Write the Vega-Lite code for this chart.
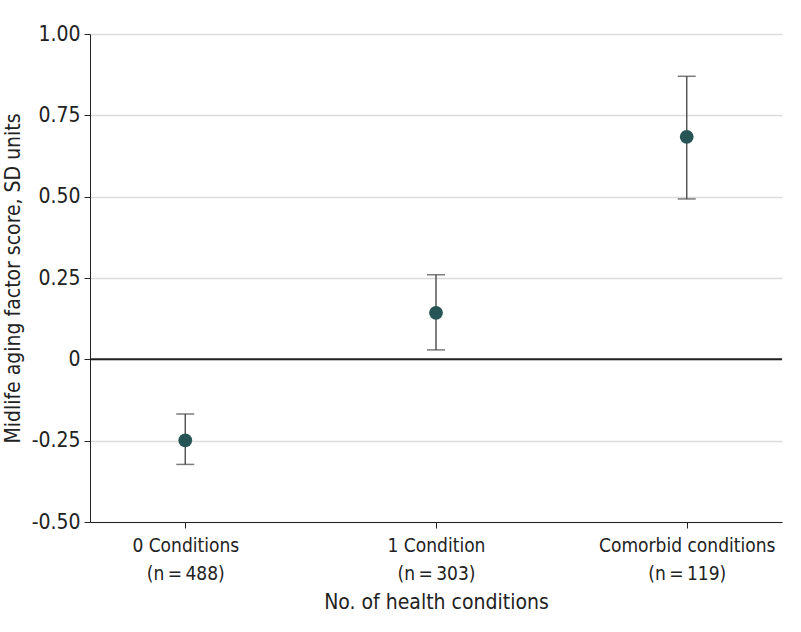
{
  "$schema": "https://vega.github.io/schema/vega-lite/v6.json",
  "width": 692,
  "height": 488,
  "autosize": "none",
  "padding": {"left": 90, "top": 34, "right": 19, "bottom": 110},
  "background": "white",
  "config": {
    "view": {"stroke": null},
    "font": "DejaVu Sans Condensed",
    "axis": {
      "labelFont": "DejaVu Sans Condensed",
      "titleFont": "DejaVu Sans Condensed",
      "labelFontSize": 19,
      "titleFontSize": 21,
      "titleFontWeight": "normal",
      "labelColor": "#222",
      "titleColor": "#222",
      "domainColor": "#222",
      "tickColor": "#222"
    }
  },
  "data": {
    "values": [
      {"group": "0 Conditions|(n\u2009=\u2009488)", "est": -0.249, "lo": -0.323, "hi": -0.168},
      {"group": "1 Condition|(n\u2009=\u2009303)", "est": 0.143, "lo": 0.029, "hi": 0.260},
      {"group": "Comorbid conditions|(n\u2009=\u2009119)", "est": 0.684, "lo": 0.493, "hi": 0.870}
    ]
  },
  "encoding": {
    "x": {
      "field": "group",
      "type": "nominal",
      "sort": null,
      "scale": {"type": "point", "padding": 0.38},
      "axis": {
        "title": "No. of health conditions",
        "labelAngle": 0,
        "labelExpr": "split(datum.label, '|')",
        "labelLineHeight": 28,
        "labelPadding": 8,
        "tickSize": 6,
        "titlePadding": 8,
        "grid": false
      }
    }
  },
  "layer": [
    {
      "mark": {"type": "rule", "color": "#222", "strokeWidth": 2},
      "data": {"values": [{"z": 0}]},
      "encoding": {"y": {"field": "z", "type": "quantitative"}, "x": null}
    },
    {
      "mark": {"type": "rule", "color": "#555", "strokeWidth": 1.5},
      "encoding": {
        "y": {
          "field": "lo",
          "type": "quantitative",
          "scale": {"domain": [-0.5, 1], "nice": false},
          "axis": {
            "title": "Midlife aging factor score, SD units",
            "titleFontSize": 21,
            "labelFontSize": 21,
            "values": [-0.5, -0.25, 0, 0.25, 0.5, 0.75, 1],
            "labelExpr": "datum.value === 0 ? '0' : replace(format(datum.value, '.2f'), '\u2212', '-')",
            "grid": true,
            "gridColor": "#dcdcdc",
            "gridWidth": 1.5,
            "tickSize": 6,
            "labelPadding": 4,
            "titlePadding": 8
          }
        },
        "y2": {"field": "hi"}
      }
    },
    {
      "mark": {"type": "tick", "color": "#444", "size": 18, "thickness": 1.5, "orient": "horizontal"},
      "encoding": {"y": {"field": "lo", "type": "quantitative"}}
    },
    {
      "mark": {"type": "tick", "color": "#444", "size": 18, "thickness": 1.5, "orient": "horizontal"},
      "encoding": {"y": {"field": "hi", "type": "quantitative"}}
    },
    {
      "mark": {"type": "circle", "color": "#275555", "opacity": 1, "size": 190},
      "encoding": {"y": {"field": "est", "type": "quantitative"}}
    }
  ]
}
